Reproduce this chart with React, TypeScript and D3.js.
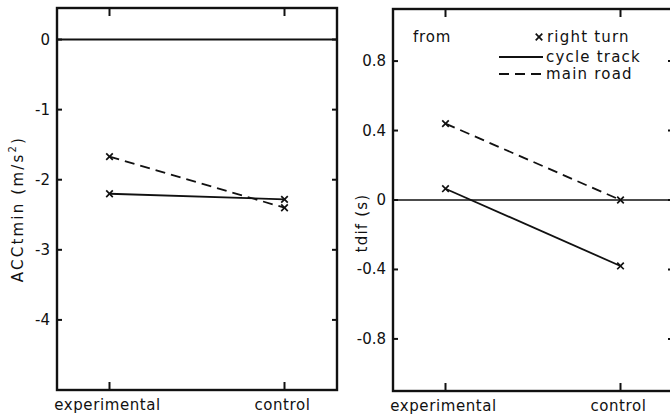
import React from "react";
import * as d3 from "d3";

const categories = ["experimental", "control"];
const accCycleTrack = [-2.2, -2.28];
const accMainRoad = [-1.67, -2.4];
const tdifCycleTrack = [0.065, -0.38];
const tdifMainRoad = [0.44, 0.0];
const accTicks = [0, -1, -2, -3, -4];
const accTickLabels = ["0", "-1", "-2", "-3", "-4"];
const tdifTicks = [0.8, 0.4, 0, -0.4, -0.8];
const tdifTickLabels = ["0.8", "0.4", "0", "-0.4", "-0.8"];
const legendItems = ["cycle track", "main road"];

const FONT = "DejaVu Sans, sans-serif";
const INK = "#111";
const markerPath = d3.symbol().type(d3.symbolX).size(30)();

type PanelProps = {
  x0: number; x1: number; y0: number; y1: number;
  domain: [number, number];
  ticks: number[]; tickLabels: string[];
  solid: number[]; dashed: number[];
  zeroWidth: number;
};

function Marker({ x, y }: { x: number; y: number }) {
  return <path d={markerPath!} transform={`translate(${x},${y})`} fill="none" stroke={INK} strokeWidth={1.7} />;
}

function Panel(p: PanelProps) {
  const x = d3.scalePoint<string>().domain(categories).range([p.x0, p.x1]).padding(0.3);
  const y = d3.scaleLinear().domain(p.domain).range([p.y1, p.y0]);
  const line = d3.line<[number, number]>().x(d => d[0]).y(d => d[1]);
  const pts = (vals: number[]) => categories.map((c, i) => [x(c)!, y(vals[i])] as [number, number]);
  return (
    <g>
      <rect x={p.x0} y={p.y0} width={p.x1 - p.x0} height={p.y1 - p.y0} fill="none" stroke={INK} strokeWidth={2.4} />
      <line x1={p.x0} x2={p.x1} y1={y(0)} y2={y(0)} stroke={INK} strokeWidth={p.zeroWidth} />
      {p.ticks.map((t, i) => (
        <g key={i}>
          <line x1={p.x0} x2={p.x0 + 5} y1={y(t)} y2={y(t)} stroke={INK} strokeWidth={2} />
          <line x1={p.x1 - 5} x2={p.x1} y1={y(t)} y2={y(t)} stroke={INK} strokeWidth={2} />
          <text x={p.x0 - 7} y={y(t)} textAnchor="end" dominantBaseline="central" fontFamily={FONT} fontSize={15} fill={INK}>{p.tickLabels[i]}</text>
        </g>
      ))}
      {categories.map(c => (
        <g key={c}>
          <line x1={x(c)} x2={x(c)} y1={p.y0} y2={p.y0 + 8} stroke={INK} strokeWidth={2} />
          <line x1={x(c)} x2={x(c)} y1={p.y1} y2={p.y1 - 8} stroke={INK} strokeWidth={2} />
          <text x={x(c)! - 2} y={p.y1 + 20} textAnchor="middle" fontFamily={FONT} fontSize={15} letterSpacing={0.6} fill={INK}>{c}</text>
        </g>
      ))}
      <path d={line(pts(p.solid))!} fill="none" stroke={INK} strokeWidth={1.8} />
      <path d={line(pts(p.dashed))!} fill="none" stroke={INK} strokeWidth={1.8} strokeDasharray="10 6" />
      {[...pts(p.solid), ...pts(p.dashed)].map((q, i) => (
        <Marker key={i} x={q[0]} y={q[1]} />
      ))}
    </g>
  );
}

export default function App() {
  const legX = 499;
  const legY = [57, 74];
  return (
    <svg width={670} height={418} style={{ position: "absolute", left: 0, top: 0, background: "#fff" }}>
      <rect width={670} height={418} fill="#fff" />
      <Panel x0={57} x1={337} y0={8} y1={390} domain={[-5, 0.45]} ticks={accTicks} tickLabels={accTickLabels}
        solid={accCycleTrack} dashed={accMainRoad} zeroWidth={2} />
      <Panel x0={393} x1={673} y0={9} y1={391} domain={[-1.1, 1.1]} ticks={tdifTicks} tickLabels={tdifTickLabels}
        solid={tdifCycleTrack} dashed={tdifMainRoad} zeroWidth={1.3} />
      <text transform="translate(18,209) rotate(-90)" textAnchor="middle" dominantBaseline="central" fontFamily={FONT} fontSize={15} letterSpacing={2.2} fill={INK}>
        ACCtmin (m/s<tspan fontSize={10} dy={-6}>2</tspan><tspan dy={6}>)</tspan>
      </text>
      <text transform="translate(362,223) rotate(-90)" textAnchor="middle" dominantBaseline="central" fontFamily={FONT} fontSize={15} letterSpacing={1.2} fill={INK}>
        tdif (s)
      </text>
      <text x={413} y={37} dominantBaseline="central" fontFamily={FONT} fontSize={15} letterSpacing={0.8} fill={INK}>from</text>
      <Marker x={539} y={37} />
      <text x={547} y={37} dominantBaseline="central" fontFamily={FONT} fontSize={15} letterSpacing={1.2} fill={INK}>right turn</text>
      {legendItems.map((name, i) => (
        <g key={name}>
          <line x1={legX} x2={legX + 44} y1={legY[i]} y2={legY[i]} stroke={INK} strokeWidth={1.8} strokeDasharray={i === 1 ? "10 6" : undefined} />
          <text x={546} y={legY[i]} dominantBaseline="central" fontFamily={FONT} fontSize={15} letterSpacing={1.2} fill={INK}>{name}</text>
        </g>
      ))}
    </svg>
  );
}
